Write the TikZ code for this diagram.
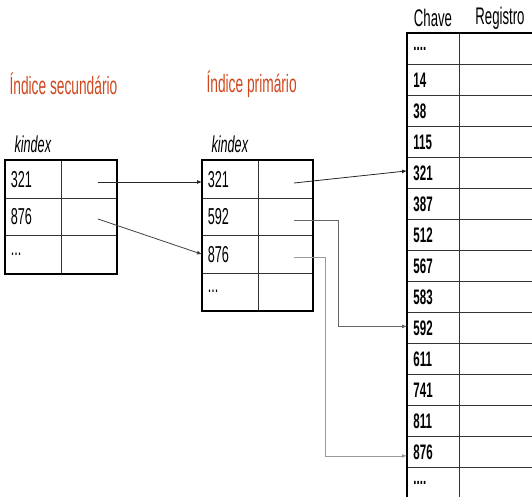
\documentclass[tikz,border=0pt]{standalone}
\usepackage{fontspec}
\usetikzlibrary{arrows.meta}
\newfontfamily\narrowfont{Liberation Sans}[FakeStretch=0.55]
\definecolor{titlered}{RGB}{208,72,30}
\newcommand{\threedots}{...}
\newcommand{\fourdots}{....}
\begin{document}
\begin{tikzpicture}[x=1pt,y=-1pt,
  cellbase/.style={draw=black!80, line width=0.8pt, inner sep=0pt, anchor=north west},
  keycell/.style={cellbase, minimum width=56pt, minimum height=37.7pt,
    text width=45pt, align=left, font=\narrowfont\fontsize{23}{23}\selectfont},
  ptrcell/.style={cellbase, minimum width=#1, minimum height=37.7pt},
  mkey/.style={cellbase, minimum width=52pt, minimum height=31pt,
    text width=40pt, align=left, font=\narrowfont\bfseries\fontsize{21}{21}\selectfont},
  mreg/.style={cellbase, minimum width=90pt, minimum height=31pt},
  frame/.style={draw=black, line width=2.6pt},
  title/.style={text=titlered, font=\narrowfont\fontsize{25}{25}\selectfont, anchor=west},
  tag/.style={font=\narrowfont\itshape\fontsize{23}{23}\selectfont, anchor=west},
  head/.style={font=\narrowfont\fontsize{24}{24}\selectfont},
  ptr/.style={line width=0.8pt, -{Latex[length=5pt,width=4pt]}}
]
\clip (0,0) rectangle (532,497);

% titles
\node[title] (tsec) at (6,84) {Índice secundário};
\node[title] (tpri) at (203,84) {Índice primário};
\node[tag] (ksec) at (11,144) {kindex};
\node[tag] (kpri) at (208,144) {kindex};

% secondary index
\foreach \t [count=\i] in {321,876,\threedots} {
  \node[keycell] (sk\i) at (5,{160+37.7*(\i-1)}) {\t};
  \node[ptrcell=55pt] (sp\i) at (61,{160+37.7*(\i-1)}) {};
}
\draw[frame] (sk1.north west) rectangle (sp3.south east);

% primary index
\foreach \t [count=\i] in {321,592,876,\threedots} {
  \node[keycell] (pk\i) at (202,{160+37.5*(\i-1)}) {\t};
  \node[ptrcell=54pt] (pp\i) at (258,{160+37.5*(\i-1)}) {};
}
\draw[frame] (pk1.north west) rectangle (pp4.south east);

% data file
\node[head] (hkey) at (433,18) {Chave};
\node[head] (hreg) at (500,18) {Registro};
\foreach \t [count=\i] in {\fourdots,14,38,115,321,387,512,567,583,592,611,741,811,876,\fourdots} {
  \node[mkey] (mk\i) at (407,{33+31*(\i-1)}) {\t};
  \node[mreg] (mr\i) at (459,{33+31*(\i-1)}) {};
}
\draw[frame] (mk15.south west) -- (mk1.north west) -- (mr1.north east);

% pointer origins inside the reference cells
\coordinate (s1o) at (98,182);
\coordinate (s2o) at (98,219);
\coordinate (p1o) at (294,183);
\coordinate (p2o) at (294,220);
\coordinate (p3o) at (294,257);

% secondary -> primary
\draw[ptr, black!85] (s1o) -- (pk1.west |- s1o);
\draw[ptr, black!75] (s2o) -- (pk3.west);

% primary -> data file
\draw[ptr, black!85] (p1o) -- ([yshift=2pt]mk5.west);
\draw[ptr, black!60] (p2o) -- ++(44,0) |- ([yshift=1.5pt]mk10.west);
\draw[ptr, black!40] (p3o) -- ++(31,0) |- ([yshift=-4pt]mk14.west);
\end{tikzpicture}
\end{document}
